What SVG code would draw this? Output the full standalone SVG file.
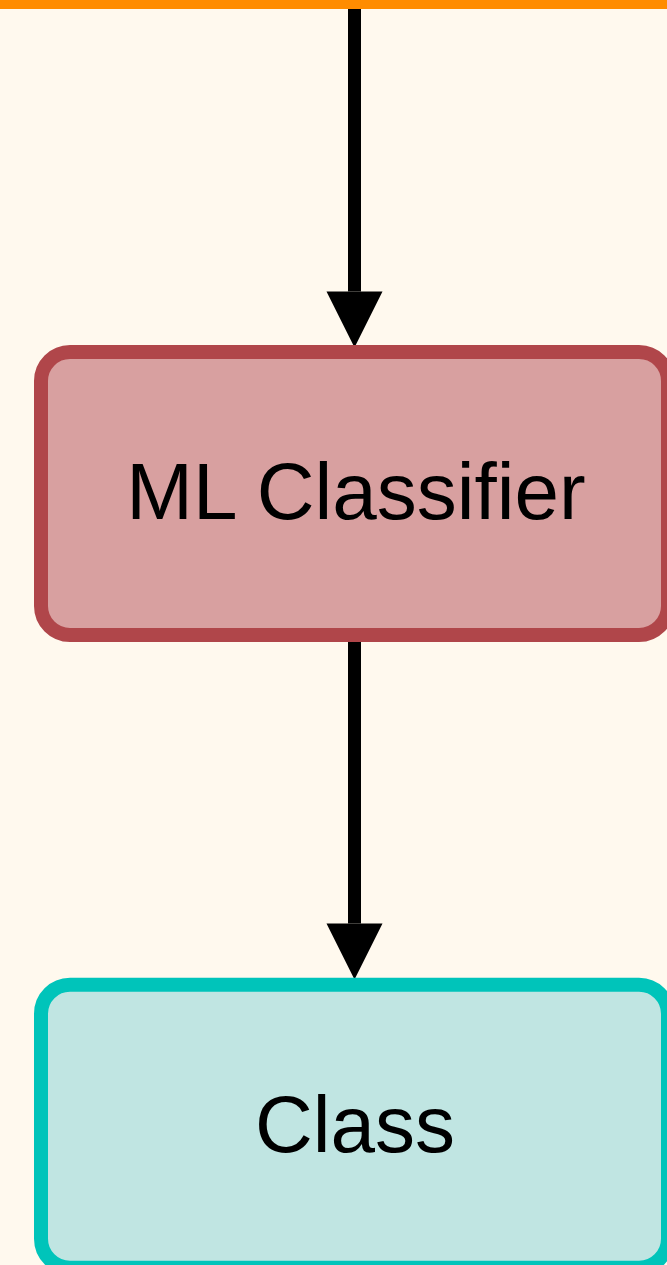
<svg xmlns="http://www.w3.org/2000/svg" width="667" height="1265" viewBox="0 0 667 1265">
  <style>
    .edge { stroke: #000000; stroke-width: 13; fill: none; }
    .label { font-family: "Liberation Sans", Arial, sans-serif; font-size: 80px; fill: #000000; text-anchor: middle; }
    .ml rect { fill: #D8A0A0; stroke: #B0464A; stroke-width: 14; }
    .cls rect { fill: #C0E5E2; stroke: #00C4BA; stroke-width: 14; }
  </style>
  <defs>
    <!-- arrowhead drawn with its base at the end of the line -->
    <marker id="arrow" markerUnits="userSpaceOnUse" markerWidth="56" markerHeight="56" viewBox="0 0 54 54" refX="0" refY="27" orient="auto" overflow="visible">
      <path d="M0,0 L54,27 L0,54 Z" fill="#000000"/>
    </marker>
  </defs>

  <!-- canvas -->
  <rect x="0" y="0" width="667" height="1265" fill="#FFF9EE"/>
  <!-- upper container edge -->
  <rect x="0" y="0" width="667" height="9" fill="#FF8C00"/>

  <g id="connectors">
    <line class="edge" x1="354.5" y1="9" x2="354.5" y2="291.5" marker-end="url(#arrow)"/>
    <line class="edge" x1="354.5" y1="641" x2="354.5" y2="923.5" marker-end="url(#arrow)"/>
  </g>

  <g id="ml-classifier" class="ml">
    <rect x="41" y="352" width="627" height="283" rx="29" ry="29"/>
    <text class="label" x="356" y="519">ML Classifier</text>
  </g>

  <g id="class" class="cls">
    <rect x="41" y="984.7" width="627" height="283" rx="29" ry="29"/>
    <text class="label" x="355" y="1151.7">Class</text>
  </g>
</svg>
